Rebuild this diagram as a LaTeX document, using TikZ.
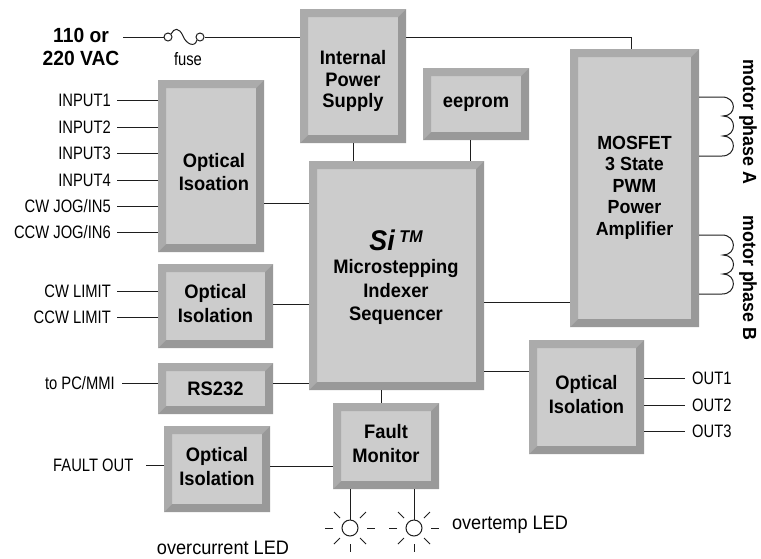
\documentclass[tikz,border=0pt]{standalone}
\usepackage{fontspec}
\setmainfont{Liberation Sans}
\newfontfamily\labf[FakeStretch=0.82]{Liberation Sans}
\newfontfamily\ledf[FakeStretch=0.93]{Liberation Sans}
\newfontfamily\hdf[FakeStretch=0.94]{Liberation Sans}
\definecolor{bevL}{HTML}{ABABAB}
\definecolor{bevD}{HTML}{999999}
\definecolor{face}{HTML}{CCCCCC}
\definecolor{wire}{HTML}{1E1E1E}
\tikzset{
  wireln/.style={draw=wire,line width=1pt},
  bevelbox/.style={inner sep=0pt,fill=face,
    path picture={
      \fill[bevL] (path picture bounding box.south west)--(path picture bounding box.north west)--(path picture bounding box.north east)--([shift={(-8pt,-8pt)}]path picture bounding box.north east)--([shift={(8pt,-8pt)}]path picture bounding box.north west)--([shift={(8pt,8pt)}]path picture bounding box.south west)--cycle;
      \fill[bevD] (path picture bounding box.south west)--(path picture bounding box.south east)--(path picture bounding box.north east)--([shift={(-8pt,-8pt)}]path picture bounding box.north east)--([shift={(-8pt,8pt)}]path picture bounding box.south east)--([shift={(8pt,8pt)}]path picture bounding box.south west)--cycle;
    }},
  boxtext/.style={inner sep=0pt,align=center,font=\hdf\bfseries\fontsize{19.5}{23.5}\selectfont},
  lbl/.style={inner sep=0pt,font=\labf\fontsize{18}{21}\selectfont},
  ledlbl/.style={inner sep=0pt,font=\ledf\fontsize{19.5}{22}\selectfont},
  led/.style={circle,draw=wire,line width=1pt,minimum size=16pt,inner sep=0pt},
  fusering/.style={circle,draw=wire,line width=1pt,minimum size=8pt,inner sep=0pt},
  ray/.style={draw=wire,line width=0.9pt}
}
\newcommand{\bx}[6]{\node[bevelbox,minimum width={(#4-#2)*1pt},minimum height={(#5-#3)*1pt}] (#1) at ({(#2+#4)/2},{(#3+#5)/2}) {#6};}
\newcommand{\inl}[3]{\node[lbl,anchor=east] (#1) at (111,#3) {#2};}
\newcommand{\rays}[1]{%
  \draw[ray] ([xshift=-17pt]#1.center) -- ([xshift=-25pt]#1.center);
  \draw[ray] ([xshift=17pt]#1.center) -- ([xshift=25pt]#1.center);
  \draw[ray] ([yshift=-16pt]#1.center) -- ([yshift=-24pt]#1.center);
  \draw[ray] ([shift={(-10pt,10pt)}]#1.center) -- ([shift={(-16pt,16pt)}]#1.center);
  \draw[ray] ([shift={(10pt,10pt)}]#1.center) -- ([shift={(16pt,16pt)}]#1.center);
  \draw[ray] ([shift={(-10pt,-10pt)}]#1.center) -- ([shift={(-16pt,-16pt)}]#1.center);
  \draw[ray] ([shift={(10pt,-10pt)}]#1.center) -- ([shift={(16pt,-16pt)}]#1.center);
}
\begin{document}
\begin{tikzpicture}[x=1pt,y=-1pt]
\useasboundingbox (0,0) rectangle (761,558);
% boxes
\bx{power}{300}{9}{406}{143}{}
\node[boxtext,font=\hdf\bfseries\fontsize{19.5}{21.5}\selectfont] (powertxt) at (353,81) {Internal\\Power\\Supply};
\bx{eeprom}{423}{68}{529}{140}{\hdf\bfseries\fontsize{19.5}{23.5}\selectfont eeprom}
\bx{optA}{158}{80}{264}{252}{}
\node[boxtext] (optAtxt) at (214,172) {Optical\\Isoation};
\bx{optB}{158}{264}{273}{348}{\hdf\bfseries\fontsize{19.5}{23.5}\selectfont\begin{tabular}{@{}c@{}}Optical\\Isolation\end{tabular}}
\bx{rs}{158}{363}{273}{414}{\hdf\bfseries\fontsize{19.5}{23.5}\selectfont RS232}
\bx{si}{309}{161}{484}{390}{}
\node[boxtext] (sitxt) at (396,277) {{\fontsize{28.5}{28}\selectfont\itshape Si\,\raisebox{8pt}{\fontsize{17}{15}\selectfont TM}}\\Microstepping\\Indexer\\Sequencer};
\bx{mos}{570}{49}{699}{327}{\hdf\bfseries\fontsize{19}{21.5}\selectfont\begin{tabular}{@{}c@{}}MOSFET\\3 State\\PWM\\Power\\Amplifier\end{tabular}}
\bx{optC}{529}{340}{644}{454}{\hdf\bfseries\fontsize{19.5}{23.5}\selectfont\begin{tabular}{@{}c@{}}Optical\\Isolation\end{tabular}}
\bx{fault}{333}{403}{439}{489}{\hdf\bfseries\fontsize{19.5}{23.5}\selectfont\begin{tabular}{@{}c@{}}Fault\\Monitor\end{tabular}}
\bx{optD}{164}{426}{270}{512}{\hdf\bfseries\fontsize{19.5}{23.5}\selectfont\begin{tabular}{@{}c@{}}Optical\\Isolation\end{tabular}}
% mains
\node[inner sep=0pt,align=center,font=\hdf\bfseries\fontsize{20.5}{23}\selectfont] (mains) at (81,47) {110 or\\220 VAC};
\node[fusering] (fa) at (168,37) {};
\node[fusering] (fb) at (200,37) {};
\node[lbl,font=\labf\fontsize{18}{20}\selectfont] (fuselbl) at (188,59) {fuse};
\coordinate (ms) at (123,37);
\draw[wireln] (ms) -- (fa.west);
\draw[wireln] (fa.north east) .. controls (174,28) and (179,27) .. (183,36) .. controls (186,44) and (195,48) .. (fb.south west);
\draw[wireln] (fb.east) -- (fb.east -| power.west);
\draw[wireln] (power.east |- fb.east) -- (631,37) -- (631,49);
% inputs
\inl{i1}{INPUT1}{100}
\inl{i2}{INPUT2}{127}
\inl{i3}{INPUT3}{153}
\inl{i4}{INPUT4}{180}
\inl{i5}{CW JOG/IN5}{206}
\inl{i6}{CCW JOG/IN6}{232}
\inl{l1}{CW LIMIT}{291}
\inl{l2}{CCW LIMIT}{317}
\node[lbl,anchor=east] (pc) at (115,383) {to PC/MMI};
\foreach \n in {i1,i2,i3,i4,i5,i6}{\draw[wireln] ([xshift=6pt]\n.east) -- (\n.east -| optA.west);}
\foreach \n in {l1,l2}{\draw[wireln] ([xshift=6pt]\n.east) -- (\n.east -| optB.west);}
\draw[wireln] ([xshift=7pt]pc.east) -- (pc.east -| rs.west);
\node[lbl,anchor=east] (fo) at (133.5,465) {FAULT OUT};
\draw[wireln] (146,465) -- (optD.west |- 0,465);
% internal links
\draw[wireln] (optA.east |- 0,203) -- (si.west |- 0,203);
\draw[wireln] (optB.east |- 0,304) -- (si.west |- 0,304);
\draw[wireln] (rs.east |- 0,383) -- (si.west |- 0,383);
\draw[wireln] (power.south -| 353,0) -- (si.north -| 353,0);
\draw[wireln] (eeprom.south -| 470,0) -- (si.north -| 470,0);
\draw[wireln] (si.east |- 0,302) -- (mos.west |- 0,302);
\draw[wireln] (si.east |- 0,371) -- (optC.west |- 0,371);
\draw[wireln] (si.south -| 381,0) -- (fault.north -| 381,0);
\draw[wireln] (optD.east |- 0,466) -- (fault.west |- 0,466);
% outputs
\foreach \n/\t/\yy in {o1/OUT1/378,o2/OUT2/405,o3/OUT3/431}{
  \node[lbl,anchor=west] (\n) at (692,\yy) {\t};
  \draw[wireln] (optC.east |- \n.west) -- ([xshift=-7pt]\n.west);
}
% coils
\draw[wireln] (mos.east |- 0,97) -- (722,97) .. controls (737,97) and (737,116) .. (723,116) .. controls (737,116) and (737,136) .. (723,136) .. controls (737,136) and (737,156) .. (722,156) -- (mos.east |- 0,156);
\draw[wireln] (mos.east |- 0,235) -- (722,235) .. controls (737,235) and (737,255) .. (723,255) .. controls (737,255) and (737,274) .. (723,274) .. controls (737,274) and (737,294) .. (722,294) -- (mos.east |- 0,294);
\node[inner sep=0pt,rotate=-90,font=\hdf\bfseries\fontsize{19}{20}\selectfont] (pa) at (748,122) {motor phase A};
\node[inner sep=0pt,rotate=-90,font=\hdf\bfseries\fontsize{19}{20}\selectfont] (pb) at (748,278) {motor phase B};
% LEDs
\node[led] (ledA) at (350,528) {};
\node[led] (ledB) at (414,528) {};
\draw[wireln] (fault.south -| ledA.north) -- (ledA.north);
\draw[wireln] (fault.south -| ledB.north) -- (ledB.north);
\rays{ledA}
\rays{ledB}
\node[ledlbl] (oc) at (223,548) {overcurrent LED};
\node[ledlbl] (ot) at (510,525) {overtemp LED};
\end{tikzpicture}
\end{document}
